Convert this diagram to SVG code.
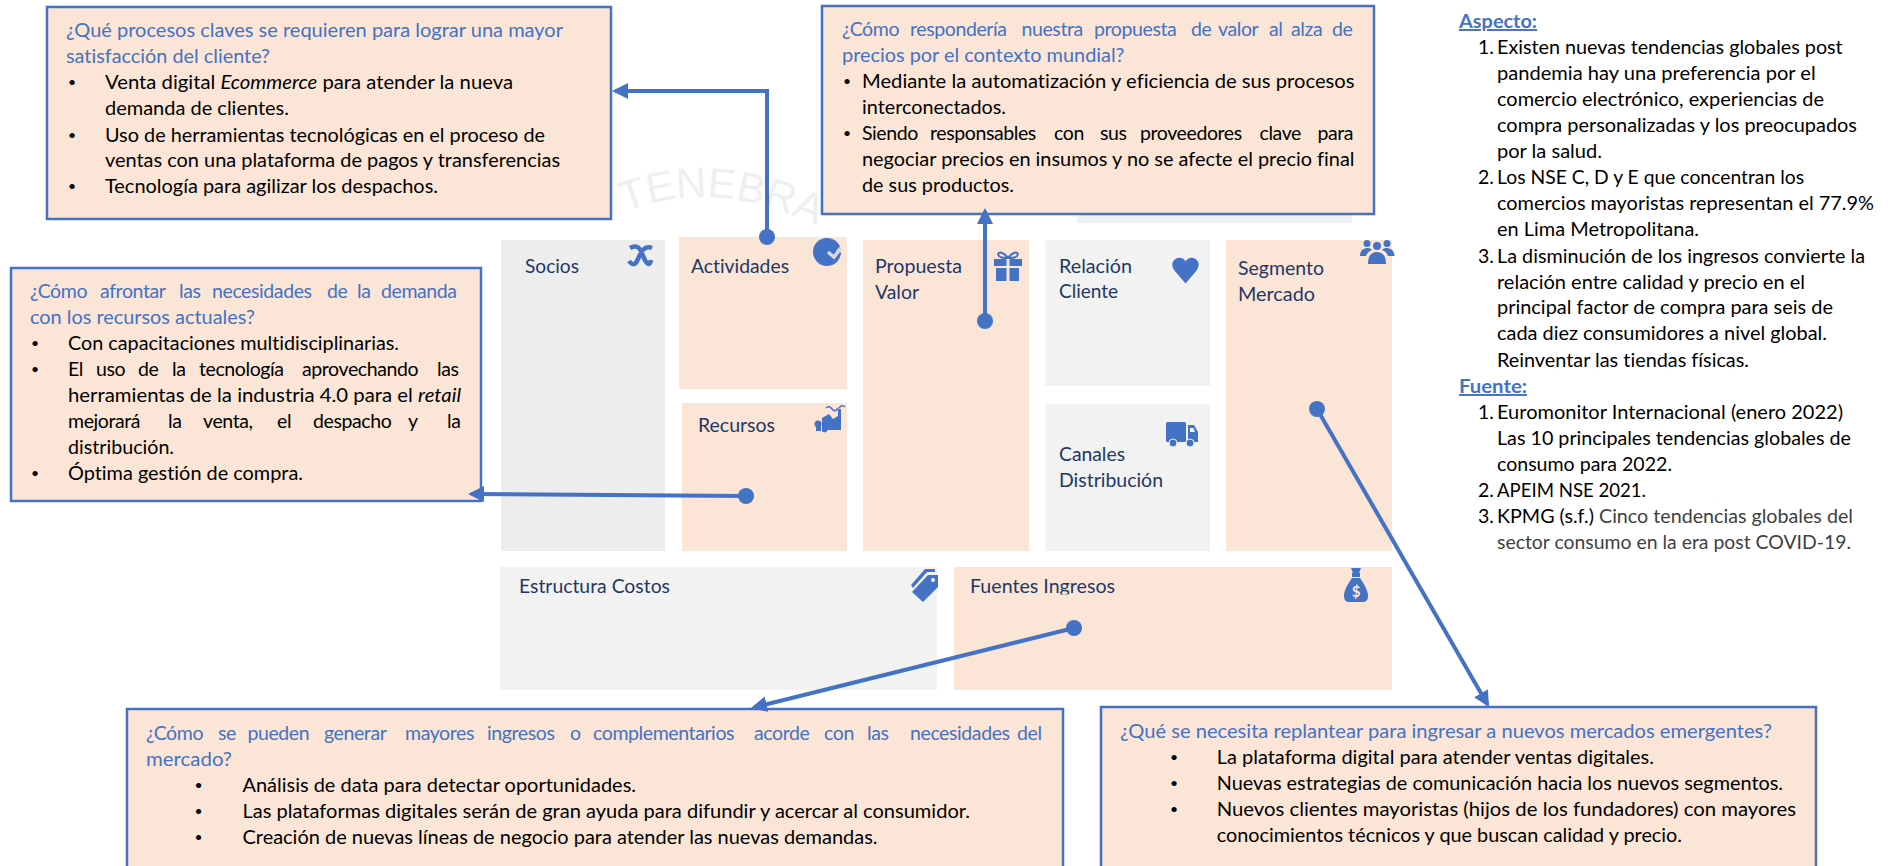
<svg xmlns="http://www.w3.org/2000/svg" width="1894" height="866" viewBox="0 0 1894 866">
<style>
text{font-family:"Lato","Carlito","Liberation Sans",sans-serif;font-size:19.5px;fill:#000;font-variant-ligatures:none}
.q,.q text{fill:#4472C4}
.box{fill:#FBE5D6;stroke:#4472C4;stroke-width:2.5}
.peach{fill:#FBE5D6}
.gray{fill:#F2F2F2}
.lab{fill:#1F3864;font-size:19.5px}
.ic{fill:#4472C4}
.is{fill:none;stroke:#4472C4}
.h{fill:#4472C4;font-weight:700;text-decoration:underline}
.g4{fill:#404040}
.b{font-size:14px}
.j{letter-spacing:-.4px}
.wm{fill:#EDEFF2;font-family:"Liberation Sans",sans-serif;font-size:42px}
.con{fill:none;stroke:#4472C4;stroke-width:4;marker-start:url(#dot);marker-end:url(#tri)}
</style>
<defs>
<marker id="tri" markerUnits="userSpaceOnUse" viewBox="0 0 16 16" refX="13" refY="8" markerWidth="16" markerHeight="16" orient="auto"><path d="M0 0L16 8L0 16z" fill="#4472C4"/></marker>
<marker id="dot" markerUnits="userSpaceOnUse" viewBox="0 0 16 16" refX="8" refY="8" markerWidth="16" markerHeight="16"><circle cx="8" cy="8" r="8" fill="#4472C4"/></marker>
<clipPath id="cutF"><rect x="960" y="570" width="170" height="24.5"/></clipPath>
<path id="arc" d="M612 218Q710 170 830 232"/>
</defs>
<rect width="1894" height="866" fill="#fff"/>
<g id="watermark">
<text class="wm"><textPath href="#arc" startOffset="14">TENEBRA</textPath></text>
<rect x="1077" y="214" width="275" height="9" fill="#EFF1F4"/>
</g>

<g id="socios"><rect class="gray" style="fill:#EDEDED" x="501" y="240" width="164" height="311"/>
<text class="lab" x="525" y="273" textLength="54" lengthAdjust="spacingAndGlyphs">Socios</text>
<path class="is" stroke-width="4.5" d="M630 248C640 243 641 252 644 258C647 265 650 266 651 260M652 248C644 245 641 252 638 259C635 266 632 265 629 261"/></g>

<g id="actividades"><rect class="peach" x="679" y="237" width="168" height="152"/>
<text class="lab" x="691" y="273" textLength="98" lengthAdjust="spacingAndGlyphs">Actividades</text>
<circle class="ic" cx="827" cy="252" r="14"/><path class="peach" d="M836 251L843 243V253z"/><path d="M828 252L834 257L841 248" fill="none" stroke="#D9D9D9" stroke-width="3.5"/></g>

<g id="recursos"><rect class="peach" x="682" y="403" width="165" height="148"/>
<text class="lab" x="698" y="432" textLength="77" lengthAdjust="spacingAndGlyphs">Recursos</text>
<path class="ic" d="M822 431V418L829 414L833 419L838 416V409H841V430H828C826 433 823 433 822 431z"/><circle class="ic" cx="818" cy="424" r="3.5"/><rect class="ic" x="816" y="426" width="5" height="5"/>
<path class="is" stroke-width="1.5" d="M826 408Q829 405 832 409T838 408M839 408Q842 404 845 407"/></g>

<g id="propuesta"><rect class="peach" x="863" y="240" width="166" height="311"/>
<text class="lab" x="875" y="273" textLength="87" lengthAdjust="spacingAndGlyphs">Propuesta</text>
<text class="lab" x="875" y="299" textLength="44" lengthAdjust="spacingAndGlyphs">Valor</text>
<path class="ic" d="M994 259H1006.500V266H994zM1009.500 259H1022V266H1009.500zM996 268H1006.500V281H996zM1009.500 268H1019V281H1009.500z"/>
<path class="is" stroke-width="2" d="M1008 258C1002 250 996 252 999 256C1000 258 1004 258 1008 258C1014 250 1020 252 1017 256C1016 258 1012 258 1008 258"/></g>

<g id="relacion"><rect class="gray" x="1045" y="240" width="165" height="146"/>
<text class="lab" x="1059" y="273" textLength="73" lengthAdjust="spacingAndGlyphs">Relación</text>
<text class="lab" x="1059" y="298" textLength="59" lengthAdjust="spacingAndGlyphs">Cliente</text>
<path class="ic" d="M1185.500 283.500L1174 270C1169 262 1176 257 1181 258C1183.500 258.500 1185 260 1185.500 261.500C1186 260 1188 258.500 1190 258C1195 257 1202 262 1197 270z"/></g>

<g id="canales"><rect class="gray" x="1045" y="404" width="165" height="147"/>
<text class="lab" x="1059" y="461" textLength="66" lengthAdjust="spacingAndGlyphs">Canales</text>
<text class="lab" x="1059" y="487" textLength="104" lengthAdjust="spacingAndGlyphs">Distribución</text>
<rect class="ic" x="1166" y="422" width="20" height="20" rx="1.500"/><path class="ic" d="M1188 425H1194L1198 432V442H1188z"/><path d="M1190 428H1193.500L1195 432H1190z" fill="#F2F2F2"/>
<circle class="ic" cx="1173" cy="443" r="4" stroke="#F2F2F2"/><circle class="ic" cx="1190" cy="443" r="4" stroke="#F2F2F2"/></g>

<g id="segmento"><rect class="peach" x="1226" y="240" width="166" height="311"/>
<text class="lab" x="1238" y="275" textLength="86" lengthAdjust="spacingAndGlyphs">Segmento</text>
<text class="lab" x="1238" y="301" textLength="77" lengthAdjust="spacingAndGlyphs">Mercado</text>
<circle class="ic" cx="1367" cy="243.500" r="3.500"/><circle class="ic" cx="1377" cy="246" r="4"/><circle class="ic" cx="1387" cy="243.500" r="3.500"/>
<path class="ic" d="M1360 256C1360 250 1364 248 1368 248C1370 248 1371 249 1372 250C1369 251 1367 253 1366 256zM1394.500 256C1394.500 250 1390 248 1386 248C1384 248 1383 249 1382 250C1385 251 1387 253 1388 256zM1368 264C1368 255 1372 252 1377 252C1382 252 1386 255 1386 264z"/></g>

<g id="estructura"><rect class="gray" x="500" y="567" width="437" height="123"/>
<text class="lab" x="519" y="593" textLength="151" lengthAdjust="spacingAndGlyphs">Estructura Costos</text>
<path class="ic" d="M912 592L923 602L938 587V575H928z"/><circle cx="933" cy="580" r="2" fill="#F2F2F2"/><path class="ic" d="M911 585L925 569H935V572H927L913 588z"/></g>

<g id="fuentes"><rect class="peach" x="954" y="567" width="438" height="123"/>
<text class="lab" x="970" y="593" textLength="145" lengthAdjust="spacingAndGlyphs" clip-path="url(#cutF)">Fuentes Ingresos</text>
<path class="ic" d="M1351 568H1361L1359 573H1360V577H1352V573H1353zM1352 578H1360C1364 584 1368 590 1368 596C1368 600 1366 602 1362 602H1350C1346 602 1344 600 1344 596C1344 590 1348 584 1352 578z"/>
<text x="1356" y="597" text-anchor="middle" style="fill:#FBE5D6;font-size:15px;font-weight:700">$</text></g>

<g id="pregunta-actividades"><rect class="box" x="47" y="7" width="564" height="212"/>
<text class="q" x="66" y="37" textLength="497" lengthAdjust="spacingAndGlyphs">¿Qué procesos claves se requieren para lograr una mayor</text>
<text class="q" x="66" y="63" textLength="204" lengthAdjust="spacingAndGlyphs">satisfacción del cliente?</text>
<text class="b" x="68" y="87">•</text>
<text x="105" y="89" textLength="408" lengthAdjust="spacingAndGlyphs">Venta digital <tspan font-style="italic">Ecommerce</tspan> para atender la nueva</text>
<text x="105" y="115" textLength="184" lengthAdjust="spacingAndGlyphs">demanda de clientes.</text>
<text class="b" x="68" y="139.500">•</text>
<text x="105" y="141.500" textLength="440" lengthAdjust="spacingAndGlyphs">Uso de herramientas tecnológicas en el proceso de</text>
<text x="105" y="167" textLength="455" lengthAdjust="spacingAndGlyphs">ventas con una plataforma de pagos y transferencias</text>
<text class="b" x="68" y="191">•</text>
<text x="105" y="193" textLength="333" lengthAdjust="spacingAndGlyphs">Tecnología para agilizar los despachos.</text></g>

<g id="pregunta-recursos"><rect class="box" x="11" y="268" width="470" height="233"/>
<text class="q j" y="298"><tspan x="30">¿Cómo</tspan><tspan x="100">afrontar</tspan><tspan x="179">las</tspan><tspan x="212">necesidades</tspan><tspan x="327">de</tspan><tspan x="357">la</tspan><tspan x="381">demanda</tspan></text>
<text class="q" x="30" y="324" textLength="225" lengthAdjust="spacingAndGlyphs">con los recursos actuales?</text>
<text class="b" x="31" y="348">•</text>
<text x="68" y="350" textLength="331" lengthAdjust="spacingAndGlyphs">Con capacitaciones multidisciplinarias.</text>
<text class="b" x="31" y="374">•</text>
<text class="j" y="376"><tspan x="68">El</tspan><tspan x="96">uso</tspan><tspan x="138">de</tspan><tspan x="172">la</tspan><tspan x="199">tecnología</tspan><tspan x="302">aprovechando</tspan><tspan x="437">las</tspan></text>
<text x="68" y="402" textLength="393" lengthAdjust="spacingAndGlyphs">herramientas de la industria 4.0 para el <tspan font-style="italic">retail</tspan></text>
<text class="j" y="428"><tspan x="68">mejorará</tspan><tspan x="168">la</tspan><tspan x="203">venta,</tspan><tspan x="277">el</tspan><tspan x="313">despacho</tspan><tspan x="408">y</tspan><tspan x="447">la</tspan></text>
<text x="68" y="454" textLength="106" lengthAdjust="spacingAndGlyphs">distribución.</text>
<text class="b" x="31" y="478">•</text>
<text x="68" y="480" textLength="235" lengthAdjust="spacingAndGlyphs">Óptima gestión de compra.</text></g>

<g id="pregunta-propuesta"><rect class="box" x="822" y="6" width="552" height="208"/>
<text class="q j" y="36"><tspan x="842">¿Cómo</tspan><tspan x="910">respondería</tspan><tspan x="1021.500">nuestra</tspan><tspan x="1094">propuesta</tspan><tspan x="1191">de</tspan><tspan x="1218">valor</tspan><tspan x="1269">al</tspan><tspan x="1291">alza</tspan><tspan x="1332">de</tspan></text>
<text class="q" x="842" y="62" textLength="282.500" lengthAdjust="spacingAndGlyphs">precios por el contexto mundial?</text>
<text class="b" x="843" y="86">•</text>
<text x="862" y="88" textLength="492.500" lengthAdjust="spacingAndGlyphs">Mediante la automatización y eficiencia de sus procesos</text>
<text x="862" y="114" textLength="144" lengthAdjust="spacingAndGlyphs">interconectados.</text>
<text class="b" x="843" y="138">•</text>
<text class="j" y="140"><tspan x="862">Siendo</tspan><tspan x="930">responsables</tspan><tspan x="1054">con</tspan><tspan x="1100">sus</tspan><tspan x="1140">proveedores</tspan><tspan x="1259.500">clave</tspan><tspan x="1317.500">para</tspan></text>
<text x="862" y="166" textLength="492.500" lengthAdjust="spacingAndGlyphs">negociar precios en insumos y no se afecte el precio final</text>
<text x="862" y="192" textLength="152" lengthAdjust="spacingAndGlyphs">de sus productos.</text></g>

<g id="pregunta-ingresos"><path class="box" d="M127 866V709H1063V866"/>
<text class="q j" y="740"><tspan x="146">¿Cómo</tspan><tspan x="218">se</tspan><tspan x="247.400">pueden</tspan><tspan x="324">generar</tspan><tspan x="405">mayores</tspan><tspan x="487">ingresos</tspan><tspan x="570">o</tspan><tspan x="593">complementarios</tspan><tspan x="754">acorde</tspan><tspan x="824">con</tspan><tspan x="867">las</tspan><tspan x="910">necesidades</tspan><tspan x="1017">del</tspan></text>
<text class="q" x="146" y="766" textLength="86" lengthAdjust="spacingAndGlyphs">mercado?</text>
<text class="b" x="194.500" y="790">•</text>
<text x="242.500" y="792" textLength="393.500" lengthAdjust="spacingAndGlyphs">Análisis de data para detectar oportunidades.</text>
<text class="b" x="194.500" y="816">•</text>
<text x="242.500" y="818" textLength="727.500" lengthAdjust="spacingAndGlyphs">Las plataformas digitales serán de gran ayuda para difundir y acercar al consumidor.</text>
<text class="b" x="194.500" y="842">•</text>
<text x="242.500" y="844" textLength="635" lengthAdjust="spacingAndGlyphs">Creación de nuevas líneas de negocio para atender las nuevas demandas.</text></g>

<g id="pregunta-mercado"><path class="box" d="M1101 866V707H1816V866"/>
<text class="q" x="1120" y="738" textLength="652" lengthAdjust="spacingAndGlyphs">¿Qué se necesita replantear para ingresar a nuevos mercados emergentes?</text>
<text class="b" x="1170" y="762">•</text>
<text x="1216.700" y="764" textLength="437.300" lengthAdjust="spacingAndGlyphs">La plataforma digital para atender ventas digitales.</text>
<text class="b" x="1170" y="788">•</text>
<text x="1216.700" y="790" textLength="566.300" lengthAdjust="spacingAndGlyphs">Nuevas estrategias de comunicación hacia los nuevos segmentos.</text>
<text class="b" x="1170" y="814">•</text>
<text x="1216.700" y="816" textLength="579.300" lengthAdjust="spacingAndGlyphs">Nuevos clientes mayoristas (hijos de los fundadores) con mayores</text>
<text x="1216.700" y="842" textLength="465.300" lengthAdjust="spacingAndGlyphs">conocimientos técnicos y que buscan calidad y precio.</text></g>

<g id="notas">
<text class="h" x="1459" y="28" textLength="78" lengthAdjust="spacingAndGlyphs">Aspecto:</text>
<text x="1478" y="54">1.</text><text x="1497" y="54" textLength="345.700" lengthAdjust="spacingAndGlyphs">Existen nuevas tendencias globales post</text>
<text x="1497" y="80" textLength="318.700" lengthAdjust="spacingAndGlyphs">pandemia hay una preferencia por el</text>
<text x="1497" y="106" textLength="327" lengthAdjust="spacingAndGlyphs">comercio electrónico, experiencias de</text>
<text x="1497" y="132" textLength="360" lengthAdjust="spacingAndGlyphs">compra personalizadas y los preocupados</text>
<text x="1497" y="158" textLength="105" lengthAdjust="spacingAndGlyphs">por la salud.</text>
<text x="1478" y="184">2.</text><text x="1497" y="184" textLength="307" lengthAdjust="spacingAndGlyphs">Los NSE C, D y E que concentran los</text>
<text x="1497" y="210" textLength="377" lengthAdjust="spacingAndGlyphs">comercios mayoristas representan el 77.9%</text>
<text x="1497" y="236" textLength="202" lengthAdjust="spacingAndGlyphs">en Lima Metropolitana.</text>
<text x="1478" y="263">3.</text><text x="1497" y="263" textLength="368" lengthAdjust="spacingAndGlyphs">La disminución de los ingresos convierte la</text>
<text x="1497" y="289" textLength="308" lengthAdjust="spacingAndGlyphs">relación entre calidad y precio en el</text>
<text x="1497" y="314" textLength="336" lengthAdjust="spacingAndGlyphs">principal factor de compra para seis de</text>
<text x="1497" y="340" textLength="330" lengthAdjust="spacingAndGlyphs">cada diez consumidores a nivel global.</text>
<text x="1497" y="367" textLength="252" lengthAdjust="spacingAndGlyphs">Reinventar las tiendas físicas.</text>
<text class="h" x="1459" y="393" textLength="68" lengthAdjust="spacingAndGlyphs">Fuente:</text>
<text x="1478" y="419">1.</text><text x="1497" y="419" textLength="346" lengthAdjust="spacingAndGlyphs">Euromonitor Internacional (enero 2022)</text>
<text x="1497" y="445" textLength="354" lengthAdjust="spacingAndGlyphs">Las 10 principales tendencias globales de</text>
<text x="1497" y="471" textLength="175" lengthAdjust="spacingAndGlyphs">consumo para 2022.</text>
<text x="1478" y="497">2.</text><text x="1497" y="497" textLength="149" lengthAdjust="spacingAndGlyphs">APEIM NSE 2021.</text>
<text x="1478" y="523">3.</text><text x="1497" y="523" textLength="356" lengthAdjust="spacingAndGlyphs">KPMG (s.f.) <tspan class="g4">Cinco tendencias globales del</tspan></text>
<text class="g4" x="1497" y="549" textLength="354" lengthAdjust="spacingAndGlyphs">sector consumo en la era post COVID-19.</text>
</g>

<g id="connectors">
<path class="con" d="M767 237V91H615"/>
<path class="con" d="M746 496L471 494"/>
<path class="con" d="M985 321V211"/>
<path class="con" d="M1074 628L754 707.300"/>
<path class="con" d="M1317 409L1487.500 704.400"/>
</g>
</svg>
